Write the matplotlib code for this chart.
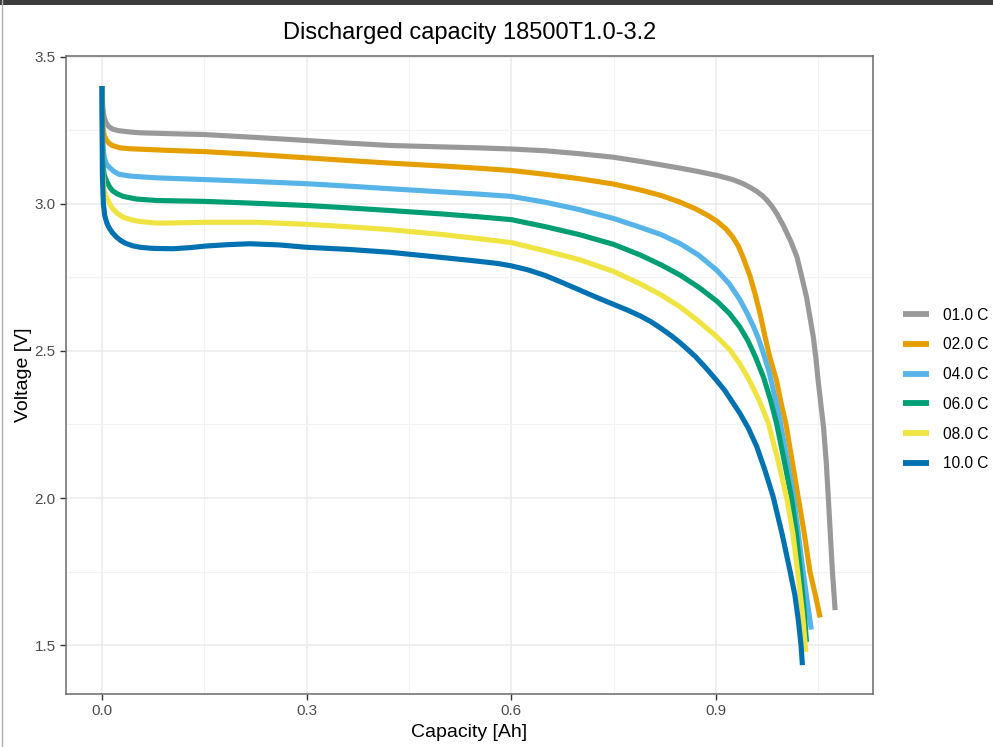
import matplotlib
matplotlib.use("Agg")
import matplotlib.pyplot as plt
from matplotlib.lines import Line2D
from matplotlib.patches import Rectangle

plt.rcParams['font.family'] = ['Liberation Sans', 'DejaVu Sans']

# ---------------- data ----------------
labels = ["01.0 C", "02.0 C", "04.0 C", "06.0 C", "08.0 C", "10.0 C"]
colors = ["#999999", "#E69F00", "#56B4E9", "#009E73", "#F0E442", "#0072B2"]

cap_1C = [0, 0.001, 0.003, 0.006, 0.010, 0.016, 0.025, 0.040, 0.056, 0.10, 0.151, 0.22, 0.30, 0.36, 0.422,
          0.5, 0.55, 0.6, 0.65, 0.7, 0.75, 0.789, 0.82, 0.85, 0.875, 0.902, 0.925, 0.94, 0.95, 0.96,
          0.968, 0.975, 0.982, 0.99, 0.999, 1.010, 1.019, 1.026, 1.033, 1.038, 1.043, 1.047, 1.050, 1.054,
          1.058, 1.062, 1.065, 1.068, 1.071, 1.075]
volt_1C = [3.40, 3.33, 3.295, 3.275, 3.262, 3.253, 3.248, 3.244, 3.241, 3.238, 3.235, 3.226, 3.215, 3.206, 3.198,
           3.193, 3.19, 3.186, 3.18, 3.17, 3.158, 3.144, 3.132, 3.12, 3.109, 3.096, 3.082, 3.068, 3.056, 3.042,
           3.028, 3.012, 2.992, 2.964, 2.926, 2.872, 2.819, 2.752, 2.683, 2.615, 2.547, 2.47, 2.40, 2.32,
           2.24, 2.12, 2.0, 1.875, 1.75, 1.619]

cap_2C = [0, 0.001, 0.003, 0.006, 0.010, 0.015, 0.026, 0.04, 0.06, 0.10, 0.151, 0.22, 0.30, 0.36, 0.422,
          0.5, 0.55, 0.6, 0.65, 0.7, 0.75, 0.789, 0.82, 0.848, 0.87, 0.89, 0.902, 0.915, 0.925, 0.933,
          0.94, 0.95, 0.958, 0.965, 0.972, 0.979, 0.989, 0.996, 1.003, 1.012, 1.021, 1.030, 1.038,
          1.046, 1.053]
volt_2C = [3.40, 3.27, 3.235, 3.218, 3.206, 3.198, 3.19, 3.187, 3.185, 3.181, 3.177, 3.168, 3.156, 3.147, 3.138,
           3.128, 3.121, 3.113, 3.10, 3.085, 3.067, 3.047, 3.028, 3.005, 2.983, 2.958, 2.94, 2.914, 2.886, 2.856,
           2.818, 2.755, 2.69, 2.625, 2.55, 2.48, 2.40, 2.32, 2.25, 2.125, 2.0, 1.875, 1.75,
           1.67, 1.594]

cap_4C = [0, 0.001, 0.003, 0.006, 0.009, 0.012, 0.018, 0.025, 0.041, 0.06, 0.08, 0.151, 0.22, 0.30, 0.36,
          0.422, 0.5, 0.55, 0.6, 0.65, 0.7, 0.75, 0.789, 0.82, 0.848, 0.875, 0.902, 0.92, 0.935, 0.945,
          0.955, 0.962, 0.968, 0.978, 0.986, 0.994, 1.004, 1.014, 1.021, 1.028, 1.034, 1.040]
volt_4C = [3.40, 3.21, 3.16, 3.137, 3.128, 3.121, 3.109, 3.10, 3.094, 3.091, 3.088, 3.082, 3.076, 3.068, 3.06,
           3.051, 3.04, 3.033, 3.025, 3.005, 2.98, 2.95, 2.92, 2.895, 2.864, 2.825, 2.773, 2.727, 2.675, 2.632,
           2.584, 2.545, 2.505, 2.43, 2.35, 2.265, 2.135, 2.0, 1.88, 1.75, 1.65, 1.553]

cap_6C = [0, 0.001, 0.003, 0.007, 0.011, 0.015, 0.022, 0.031, 0.05, 0.08, 0.151, 0.22, 0.30, 0.36, 0.422,
          0.5, 0.55, 0.6, 0.65, 0.7, 0.75, 0.789, 0.82, 0.848, 0.875, 0.902, 0.92, 0.935, 0.947, 0.958,
          0.970, 0.98, 0.989, 1.000, 1.011, 1.018, 1.024, 1.029, 1.033]
volt_6C = [3.40, 3.15, 3.10, 3.075, 3.058, 3.045, 3.034, 3.025, 3.016, 3.011, 3.008, 3.002, 2.994, 2.986, 2.977,
           2.965, 2.956, 2.946, 2.922, 2.895, 2.862, 2.826, 2.792, 2.757, 2.716, 2.668, 2.627, 2.582, 2.535, 2.48,
           2.41, 2.335, 2.255, 2.13, 2.0, 1.88, 1.75, 1.63, 1.511]

cap_8C = [0, 0.001, 0.003, 0.007, 0.011, 0.015, 0.022, 0.031, 0.042, 0.055, 0.08, 0.11, 0.151, 0.227, 0.30,
          0.36, 0.422, 0.5, 0.55, 0.6, 0.65, 0.7, 0.75, 0.789, 0.82, 0.848, 0.875, 0.902, 0.92, 0.935,
          0.948, 0.963, 0.977, 0.991, 1.004, 1.013, 1.020, 1.027, 1.032]
volt_8C = [3.40, 3.10, 3.045, 3.02, 3.0, 2.985, 2.968, 2.954, 2.946, 2.94, 2.934, 2.935, 2.937, 2.937, 2.93,
           2.922, 2.912, 2.895, 2.882, 2.868, 2.84, 2.81, 2.77, 2.728, 2.69, 2.649, 2.60, 2.547, 2.505, 2.457,
           2.405, 2.335, 2.255, 2.13, 2.0, 1.88, 1.75, 1.61, 1.477]

cap_10C = [0, 0.0005, 0.002, 0.004, 0.007, 0.010, 0.015, 0.0215, 0.028, 0.035, 0.045, 0.056, 0.07, 0.08,
           0.104, 0.13, 0.151, 0.185, 0.217, 0.26, 0.30, 0.36, 0.422, 0.5, 0.55, 0.58, 0.6, 0.625, 0.65,
           0.675, 0.7, 0.725, 0.75, 0.77, 0.789, 0.805, 0.82, 0.835, 0.848, 0.87, 0.887, 0.9, 0.913, 0.935,
           0.948, 0.960, 0.972, 0.984, 0.997, 1.009, 1.016, 1.021, 1.025, 1.027]
volt_10C = [3.40, 3.10, 3.0, 2.96, 2.935, 2.92, 2.902, 2.886, 2.874, 2.865, 2.857, 2.852, 2.849, 2.848,
            2.847, 2.851, 2.856, 2.861, 2.864, 2.86, 2.852, 2.845, 2.835, 2.817, 2.805, 2.797, 2.789, 2.775, 2.756,
            2.732, 2.707, 2.682, 2.658, 2.639, 2.619, 2.599, 2.576, 2.551, 2.527, 2.481, 2.438, 2.403, 2.366, 2.289,
            2.236, 2.175, 2.095, 2.005, 1.88, 1.75, 1.67, 1.585, 1.5, 1.432]

series = [(cap_1C, volt_1C), (cap_2C, volt_2C), (cap_4C, volt_4C),
          (cap_6C, volt_6C), (cap_8C, volt_8C), (cap_10C, volt_10C)]

x_ticks = [0.0, 0.3, 0.6, 0.9]
x_ticklabels = ["0.0", "0.3", "0.6", "0.9"]
y_ticks = [1.5, 2.0, 2.5, 3.0, 3.5]
y_ticklabels = ["1.5", "2.0", "2.5", "3.0", "3.5"]

# ---------------- figure ----------------
W, H = 993, 747
fig = plt.figure(figsize=(W / 100, H / 100), dpi=100)
fig.patch.set_facecolor("white")

# window decoration: dark band on top, thin line on left
fig.add_artist(Rectangle((0, 1 - 4.5 / H), 1, 4.5 / H, transform=fig.transFigure,
                         color="#3c3c3c", lw=0, zorder=10))
fig.add_artist(Line2D([2 / W, 2 / W], [0, 1], transform=fig.transFigure,
                      color="#b0b0b0", lw=1.0, zorder=10))

L, R, T, B = 66, 873, 56, 694
ax = fig.add_axes([L / W, 1 - B / H, (R - L) / W, (B - T) / H])

for (x, y), c, lab in zip(series, colors, labels):
    ax.plot(x, y, color=c, lw=3.7, label=lab, solid_joinstyle="round",
            solid_capstyle="butt", zorder=3)

ax.set_xlim(-0.0528, 1.1305)
ax.set_ylim(1.334, 3.502)

ax.set_xticks(x_ticks)
ax.set_xticklabels(x_ticklabels)
ax.set_yticks(y_ticks)
ax.set_yticklabels(y_ticklabels)
ax.set_xticks([0.15, 0.45, 0.75, 1.05], minor=True)
ax.set_yticks([1.75, 2.25, 2.75, 3.25], minor=True)

ax.grid(which="major", color="#EBEBEB", lw=1.1, zorder=0)
ax.grid(which="minor", color="#F2F2F2", lw=0.8, zorder=0)
ax.set_axisbelow(True)

ax.tick_params(which="major", direction="out", length=4.5, width=1.0, color="#333333",
               labelcolor="#4D4D4D", labelsize=11, pad=3)
ax.tick_params(which="minor", length=0)
for s in ax.spines.values():
    s.set_color("#6a6a6a")
    s.set_linewidth(1.1)

ax.set_xlabel("Capacity [Ah]", fontsize=14, color="black", labelpad=4)
ax.set_ylabel("Voltage [V]", fontsize=14, color="black", labelpad=2)
ax.set_title("Discharged capacity 18500T1.0-3.2", fontsize=17, color="black", pad=12)

leg = fig.legend(loc="center left", bbox_to_anchor=(903 / W, 1 - 389.5 / H),
                 frameon=False, fontsize=11.2, handlelength=1.7, handletextpad=0.85,
                 labelspacing=0.95, borderpad=0, borderaxespad=0)
for h in leg.get_lines():
    h.set_linewidth(4.2)

fig.savefig("out.png", dpi=100, facecolor="white")
